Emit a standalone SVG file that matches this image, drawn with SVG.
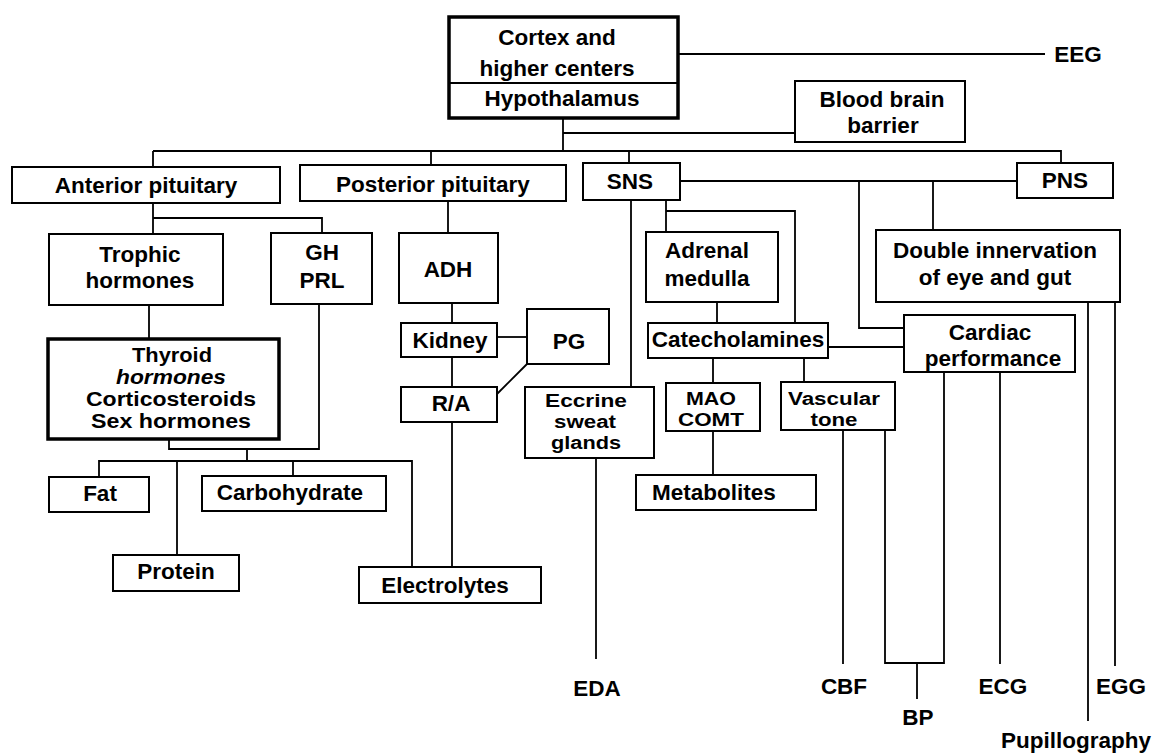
<svg xmlns="http://www.w3.org/2000/svg" width="1153" height="753" viewBox="0 0 1153 753">
<style>
  .box { fill: #fff; stroke: #000; stroke-width: 2; }
  .thick { fill: #fff; stroke: #000; stroke-width: 3.5; }
  .ln { fill: none; stroke: #000; stroke-width: 1.8; }
  text { font-family: "Liberation Sans", Arial, sans-serif; font-weight: bold; font-size: 22.5px; fill: #000; text-anchor: middle; }
  .sm { font-size: 19.5px; }
  .xs { font-size: 18.8px; }
  .it { font-style: italic; }
</style>
<rect width="1153" height="753" fill="#fff"/>
<g id="connectors">
  <path class="ln" d="M678 54 H1045"/>
  <path class="ln" d="M563 118 V151"/>
  <path class="ln" d="M563 133 H795"/>
  <path class="ln" d="M153 151 H1061 V163"/>
  <path class="ln" d="M153 151 V167"/>
  <path class="ln" d="M431 151 V165"/>
  <path class="ln" d="M629 151 V163"/>
  <path class="ln" d="M680 181 H1017"/>
  <path class="ln" d="M153 203 V234"/>
  <path class="ln" d="M153 218 H322 V233"/>
  <path class="ln" d="M149 305 V339"/>
  <path class="ln" d="M319 304 V449 H169 V439"/>
  <path class="ln" d="M247 449 V461"/>
  <path class="ln" d="M99 477 V461 H412 V568"/>
  <path class="ln" d="M177 461 V555"/>
  <path class="ln" d="M293 461 V476"/>
  <path class="ln" d="M448 200 V233"/>
  <path class="ln" d="M452 303 V323"/>
  <path class="ln" d="M497 337 H527"/>
  <path class="ln" d="M452 357 V387"/>
  <path class="ln" d="M527 364 L497 394"/>
  <path class="ln" d="M452 422 V567"/>
  <path class="ln" d="M631 200 V387"/>
  <path class="ln" d="M596 458 V659"/>
  <path class="ln" d="M666 200 V232"/>
  <path class="ln" d="M666 211 H795 V323"/>
  <path class="ln" d="M717 302 V323"/>
  <path class="ln" d="M713 358 V383"/>
  <path class="ln" d="M804 358 V382"/>
  <path class="ln" d="M713 431 V475"/>
  <path class="ln" d="M828 347 H904"/>
  <path class="ln" d="M859 181 V328 H904"/>
  <path class="ln" d="M933 181 V230"/>
  <path class="ln" d="M843 430 V664"/>
  <path class="ln" d="M885 430 V663 H944 V372"/>
  <path class="ln" d="M917 663 V699"/>
  <path class="ln" d="M1000 372 V664"/>
  <path class="ln" d="M1088 302 V721"/>
  <path class="ln" d="M1115 302 V666"/>
</g>
<g id="cortex">
  <rect class="thick" x="449" y="17" width="229" height="101"/>
  <path class="ln" d="M449 83 H678"/>
  <text x="557" y="45">Cortex and</text>
  <text x="557" y="76">higher centers</text>
  <text x="562" y="106">Hypothalamus</text>
</g>
<g id="eeg"><text x="1078" y="62">EEG</text></g>
<g id="bbb">
  <rect class="box" x="795" y="81" width="170" height="61"/>
  <text x="882" y="107">Blood brain</text>
  <text x="883" y="133">barrier</text>
</g>
<g id="anterior">
  <rect class="box" x="12" y="167" width="268" height="36"/>
  <text x="146" y="193">Anterior pituitary</text>
</g>
<g id="posterior">
  <rect class="box" x="300" y="165" width="266" height="36"/>
  <text x="433" y="192">Posterior pituitary</text>
</g>
<g id="sns">
  <rect class="box" x="583" y="163" width="97" height="37"/>
  <text x="630" y="189">SNS</text>
</g>
<g id="pns">
  <rect class="box" x="1017" y="163" width="96" height="35"/>
  <text x="1065" y="188">PNS</text>
</g>
<g id="trophic">
  <rect class="box" x="49" y="234" width="174" height="71"/>
  <text x="140" y="262">Trophic</text>
  <text x="140" y="288">hormones</text>
</g>
<g id="ghprl">
  <rect class="box" x="271" y="233" width="101" height="71"/>
  <text x="322" y="260">GH</text>
  <text x="322" y="288">PRL</text>
</g>
<g id="adh">
  <rect class="box" x="399" y="233" width="99" height="70"/>
  <text x="448" y="277">ADH</text>
</g>
<g id="adrenal">
  <rect class="box" x="646" y="232" width="132" height="70"/>
  <text x="707" y="258">Adrenal</text>
  <text x="707" y="286">medulla</text>
</g>
<g id="double">
  <rect class="box" x="876" y="230" width="244" height="72"/>
  <text x="995" y="258">Double innervation</text>
  <text x="995" y="285">of eye and gut</text>
</g>
<g id="kidney">
  <rect class="box" x="401" y="323" width="96" height="34"/>
  <text x="450" y="348">Kidney</text>
</g>
<g id="pg">
  <rect class="box" x="527" y="309" width="82" height="55"/>
  <text x="569" y="349">PG</text>
</g>
<g id="catecholamines">
  <rect class="box" x="648" y="323" width="180" height="35"/>
  <text x="738" y="347">Catecholamines</text>
</g>
<g id="cardiac">
  <rect class="box" x="904" y="315" width="171" height="57"/>
  <text x="990" y="340">Cardiac</text>
  <text x="993" y="366">performance</text>
</g>
<g id="thyroid">
  <rect class="thick" x="48" y="339" width="231" height="100"/>
  <text x="172" y="362" class="sm" textLength="80" lengthAdjust="spacingAndGlyphs">Thyroid</text>
  <text x="171" y="384" class="sm it" textLength="110" lengthAdjust="spacingAndGlyphs">hormones</text>
  <text x="171" y="406" class="sm" textLength="170" lengthAdjust="spacingAndGlyphs">Corticosteroids</text>
  <text x="171" y="428" class="sm" textLength="160" lengthAdjust="spacingAndGlyphs">Sex hormones</text>
</g>
<g id="ra">
  <rect class="box" x="401" y="387" width="96" height="35"/>
  <text x="451" y="411">R/A</text>
</g>
<g id="eccrine">
  <rect class="box" x="525" y="387" width="129" height="71"/>
  <text x="586" y="407" class="xs" textLength="82" lengthAdjust="spacingAndGlyphs">Eccrine</text>
  <text x="585" y="428" class="xs" textLength="62" lengthAdjust="spacingAndGlyphs">sweat</text>
  <text x="586" y="449" class="xs" textLength="70" lengthAdjust="spacingAndGlyphs">glands</text>
</g>
<g id="maocomt">
  <rect class="box" x="666" y="383" width="94" height="48"/>
  <text x="711" y="405" class="xs" textLength="50" lengthAdjust="spacingAndGlyphs">MAO</text>
  <text x="711" y="426" class="xs" textLength="66" lengthAdjust="spacingAndGlyphs">COMT</text>
</g>
<g id="vascular">
  <rect class="box" x="781" y="382" width="114" height="48"/>
  <text x="834" y="405" class="xs" textLength="92" lengthAdjust="spacingAndGlyphs">Vascular</text>
  <text x="834" y="426" class="xs" textLength="47" lengthAdjust="spacingAndGlyphs">tone</text>
</g>
<g id="metabolites">
  <rect class="box" x="636" y="475" width="180" height="35"/>
  <text x="714" y="500">Metabolites</text>
</g>
<g id="fat">
  <rect class="box" x="49" y="477" width="100" height="35"/>
  <text x="100" y="501">Fat</text>
</g>
<g id="carbohydrate">
  <rect class="box" x="202" y="476" width="184" height="35"/>
  <text x="290" y="500">Carbohydrate</text>
</g>
<g id="protein">
  <rect class="box" x="113" y="555" width="126" height="36"/>
  <text x="176" y="579">Protein</text>
</g>
<g id="electrolytes">
  <rect class="box" x="359" y="567" width="182" height="36"/>
  <text x="445" y="593">Electrolytes</text>
</g>
<g id="eda"><text x="597" y="696">EDA</text></g>
<g id="cbf"><text x="844" y="694">CBF</text></g>
<g id="bp"><text x="918" y="725">BP</text></g>
<g id="ecg"><text x="1003" y="694">ECG</text></g>
<g id="egg"><text x="1121" y="694">EGG</text></g>
<g id="pupillography"><text x="1076" y="748">Pupillography</text></g>
</svg>
